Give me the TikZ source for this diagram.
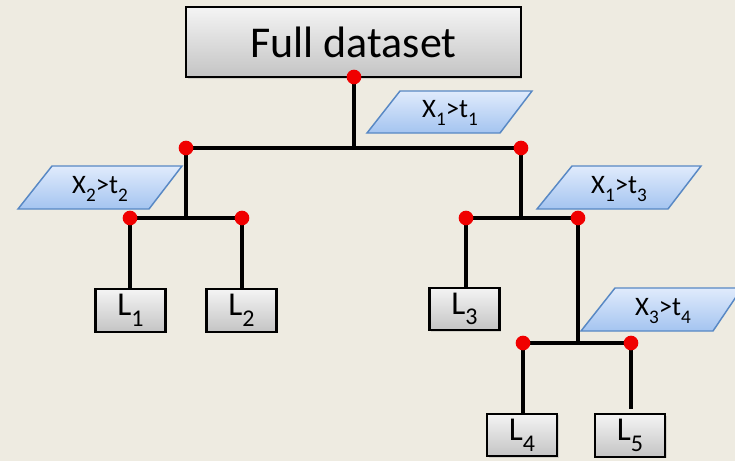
\documentclass[tikz,border=0pt]{standalone}
\usepackage{fontspec}
\setmainfont{Carlito}
\usetikzlibrary{shadows}
\definecolor{bg}{RGB}{238,235,225}
\definecolor{boxtop}{RGB}{244,244,244}
\definecolor{boxbot}{RGB}{196,196,196}
\definecolor{condtop}{RGB}{224,235,252}
\definecolor{condbot}{RGB}{164,196,240}
\definecolor{condline}{RGB}{88,136,196}
\definecolor{dotred}{RGB}{240,0,0}
\newcommand{\sbs}[1]{\raisebox{-0.32em}{\scalebox{0.72}{#1}}}
\tikzset{
  graybox/.style={draw=black, line width=1.6pt, top color=boxtop, bottom color=boxbot,
    inner sep=0pt, drop shadow={shadow xshift=1.2pt, shadow yshift=-1.2pt, opacity=0.25}},
  leafbox/.style={graybox, minimum width=52.5pt, minimum height=32pt, font=\fontsize{25}{28}\selectfont},
  condshape/.style={draw=condline, line width=1.1pt, top color=condtop, bottom color=condbot},
  condtext/.style={font=\fontsize{20}{22}\selectfont, inner sep=0pt},
  conn/.style={line width=2.3pt, black},
  dotmark/.style={circle, fill=dotred, inner sep=0pt, minimum size=11pt}
}
\begin{document}
\begin{tikzpicture}[x=0.75pt, y=-0.75pt]
\useasboundingbox (0,0) rectangle (735,461);
\fill[bg] (0,0) rectangle (735,461);

% parallelograms (drawn first)
\shade[condshape] (400,91) -- (532,91) -- (500,133) -- (367,133) -- cycle;
\node[condtext] (c1) at (450,113) {X\sbs{1}>t\sbs{1}};
\shade[condshape] (52,166) -- (182,166) -- (149,209) -- (18,209) -- cycle;
\node[condtext] (c2) at (100,189) {X\sbs{2}>t\sbs{2}};
\shade[condshape] (572,166) -- (701,166) -- (668,209) -- (537,209) -- cycle;
\node[condtext] (c3) at (619,189) {X\sbs{1}>t\sbs{3}};
\shade[condshape] (615,288) -- (742,288) -- (713,331) -- (581,331) -- cycle;
\node[condtext] (c4) at (663,311) {X\sbs{3}>t\sbs{4}};

% boxes
\node[graybox, minimum width=251pt, minimum height=52.5pt, font=\fontsize{33}{36}\selectfont]
  (full) at (353.5,42) {Full dataset};
\node[leafbox] (L1) at (130.5,310.5) {L\sbs{1}};
\node[leafbox] (L2) at (241.5,310.5) {L\sbs{2}};
\node[leafbox] (L3) at (464.5,309) {L\sbs{3}};
\node[leafbox] (L4) at (522,435) {L\sbs{4}};
\node[leafbox] (L5) at (630,435.5) {L\sbs{5}};

% junctions
\coordinate (d0) at (354,77);
\coordinate (j1) at (354,148);
\coordinate (d1) at (186,148);
\coordinate (d2) at (521,148);
\coordinate (j2) at (186,218);
\coordinate (d3) at (130,218);
\coordinate (d4) at (242,218);
\coordinate (j3) at (521,218);
\coordinate (d5) at (466,218);
\coordinate (d6) at (578,218);
\coordinate (j4) at (578,343);
\coordinate (d7) at (523,343);
\coordinate (d8) at (631,343);

% connectors
\draw[conn] (d0) -- (j1);
\draw[conn] (d1) -- (d2);
\draw[conn] (d1) -- (j2);
\draw[conn] (d3) -- (d4);
\draw[conn] (d3) -- (d3 |- L1.north);
\draw[conn] (d4) -- (d4 |- L2.north);
\draw[conn] (d2) -- (j3);
\draw[conn] (d5) -- (d6);
\draw[conn] (d5) -- (d5 |- L3.north);
\draw[conn] (d6) -- (j4);
\draw[conn] (d7) -- (d8);
\draw[conn] (d7) -- (d7 |- L4.north);
\draw[conn] (d8) -- ([yshift=3pt]d8 |- L5.north);

% dots
\foreach \d in {d0,d1,d2,d3,d4,d5,d6,d7,d8}
  \node[dotmark] at (\d) {};
\end{tikzpicture}
\end{document}
